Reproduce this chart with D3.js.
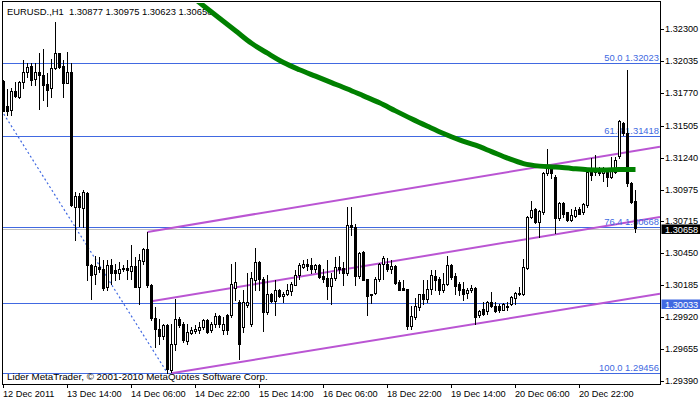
<!DOCTYPE html>
<html><head><meta charset="utf-8">
<script src="https://cdn.jsdelivr.net/npm/d3@7"></script>
<style>
body{margin:0;background:#fff}
svg{display:block}
text{font-family:"Liberation Sans",Arial,sans-serif}
</style>
</head><body>
<svg id="c" width="700" height="402"></svg>
<script>
// ---------- DATA ----------
const symbol = "EURUSD.,H1";
const lastBar = [1.30877, 1.30975, 1.30623, 1.30658];
const opens = [1.31877,1.31666,1.31631,1.31790,1.31738,1.31867,1.31945,1.31997,1.31887,1.31950,
1.31923,1.31848,1.31813,1.31978,1.32103,1.31997,1.31859,1.31945,1.30832,1.30921,
1.30819,1.30943,1.30355,1.30275,1.30335,1.30322,1.30170,1.30355,1.30308,1.30281,
1.30314,1.30330,1.30302,1.30341,1.30170,1.30382,1.30482,1.30189,1.29916,1.29825,
1.29764,1.29858,1.29480,1.29701,1.29908,1.29866,1.29722,1.29789,1.29803,1.29811,
1.29838,1.29900,1.29811,1.29861,1.29927,1.29811,1.29935,1.29935,1.30165,1.30045,
1.29838,1.30018,1.29866,1.30225,1.30377,1.30233,1.29963,1.30115,1.30054,1.30148,
1.30095,1.30109,1.30136,1.30189,1.30266,1.30335,1.30363,1.30349,1.30316,1.30355,
1.30261,1.30244,1.30178,1.30247,1.30335,1.30330,1.30286,1.30686,1.30667,1.30261,
1.30455,1.30233,1.30115,1.30120,1.30239,1.30358,1.30363,1.30322,1.30341,1.30209,
1.30161,1.30151,1.29847,1.29921,1.30004,1.30109,1.30068,1.30151,1.30258,1.30233,
1.30142,1.30198,1.30349,1.30258,1.30192,1.30156,1.30120,1.30142,1.30165,1.29935,
1.29985,1.29968,1.30045,1.30010,1.30012,1.29982,1.30004,1.30026,1.30082,1.30109,
1.30115,1.30330,1.30749,1.30813,1.30708,1.30791,1.31109,1.31150,1.31081,1.30736,
1.30860,1.30786,1.30722,1.30755,1.30811,1.30791,1.30846,1.31128,1.31122,1.31136,
1.31114,1.31128,1.31081,1.31122,1.31252,1.31525,1.31443,1.31028,1.30877];
const highs = [1.31881,1.31807,1.31813,1.31862,1.31873,1.32047,1.32025,1.32020,1.32025,1.32103,
1.32136,1.31937,1.32053,1.32364,1.32105,1.32047,1.32111,1.32020,1.30956,1.30948,
1.30970,1.30956,1.30363,1.30424,1.30418,1.30391,1.30391,1.30397,1.30363,1.30377,
1.30349,1.30391,1.30515,1.30418,1.30446,1.30493,1.30625,1.30198,1.30004,1.29908,
1.29866,1.29866,1.29866,1.30074,1.29921,1.29880,1.29866,1.29838,1.29852,1.29880,
1.29908,1.29908,1.29880,1.29954,1.29941,1.29921,1.29949,1.30363,1.30377,1.30059,
1.30142,1.30281,1.30294,1.30488,1.30382,1.30252,1.30266,1.30122,1.30225,1.30156,
1.30128,1.30198,1.30211,1.30308,1.30368,1.30391,1.30399,1.30405,1.30363,1.30363,
1.30314,1.30391,1.30281,1.30418,1.30424,1.30377,1.30832,1.30832,1.30689,1.30459,
1.30468,1.30233,1.30115,1.30252,1.30368,1.30424,1.30413,1.30391,1.30349,1.30225,
1.30225,1.30156,1.30010,1.30082,1.30115,1.30231,1.30225,1.30308,1.30308,1.30252,
1.30281,1.30424,1.30363,1.30281,1.30211,1.30209,1.30165,1.30184,1.30170,1.29977,
1.30045,1.30054,1.30128,1.30045,1.30032,1.30037,1.30045,1.30093,1.30128,1.30170,
1.30397,1.30755,1.30882,1.30819,1.30805,1.31122,1.31308,1.31178,1.31095,1.30874,
1.30874,1.30791,1.30811,1.30832,1.30832,1.30860,1.31136,1.31233,1.31260,1.31163,
1.31163,1.31150,1.31246,1.31246,1.31550,1.31536,1.31964,1.31037,1.30975];
const lows = [1.31625,1.31592,1.31592,1.31743,1.31732,1.31813,1.31904,1.31840,1.31840,1.31641,
1.31716,1.31666,1.31743,1.31973,1.31981,1.31743,1.31853,1.30838,1.30556,1.30672,
1.30667,1.30225,1.30074,1.30198,1.30294,1.30142,1.30142,1.30198,1.30225,1.30239,
1.30302,1.30239,1.30239,1.30167,1.30026,1.30363,1.30170,1.29894,1.29673,1.29701,
1.29742,1.29456,1.29466,1.29645,1.29838,1.29714,1.29701,1.29778,1.29789,1.29789,
1.29825,1.29790,1.29797,1.29838,1.29838,1.29784,1.29784,1.29921,1.30059,1.29577,
1.29797,1.30004,1.29844,1.30142,1.30142,1.29805,1.29949,1.30045,1.29935,1.30087,
1.30045,1.30101,1.30101,1.30184,1.30239,1.30330,1.30308,1.30286,1.30294,1.30244,
1.30211,1.30068,1.30026,1.30225,1.30286,1.30184,1.30266,1.30598,1.30184,1.30247,
1.30225,1.29935,1.30037,1.30115,1.30219,1.30239,1.30302,1.30281,1.30198,1.30142,
1.30142,1.29819,1.29825,1.29908,1.29982,1.30026,1.30045,1.30115,1.30148,1.30115,
1.30128,1.30184,1.30239,1.30115,1.30101,1.30059,1.30076,1.30128,1.29866,1.29921,
1.29935,1.29949,1.30004,1.29963,1.29963,1.29977,1.29977,1.30018,1.30032,1.30101,
1.30101,1.30322,1.30744,1.30695,1.30584,1.30777,1.31095,1.31067,1.30612,1.30722,
1.30749,1.30714,1.30716,1.30749,1.30772,1.30777,1.30832,1.31053,1.31095,1.31095,
1.31047,1.31004,1.31067,1.31109,1.31235,1.31426,1.31004,1.30863,1.30623];
const closes = [1.31629,1.31627,1.31790,1.31751,1.31865,1.31945,1.31992,1.31881,1.31950,1.31920,
1.31840,1.31799,1.31978,1.32103,1.31992,1.31859,1.31945,1.30846,1.30921,1.30827,
1.30951,1.30349,1.30266,1.30341,1.30316,1.30165,1.30355,1.30286,1.30286,1.30316,
1.30327,1.30308,1.30341,1.30170,1.30391,1.30482,1.30189,1.29913,1.29825,1.29764,
1.29852,1.29494,1.29701,1.29908,1.29852,1.29728,1.29797,1.29811,1.29819,1.29838,
1.29900,1.29797,1.29861,1.29927,1.29866,1.29866,1.29817,1.30198,1.30211,1.29701,
1.30045,1.30045,1.30242,1.30374,1.30233,1.29963,1.30115,1.30054,1.30148,1.30095,
1.30115,1.30142,1.30198,1.30272,1.30349,1.30363,1.30343,1.30316,1.30355,1.30252,
1.30239,1.30178,1.30247,1.30335,1.30322,1.30286,1.30686,1.30667,1.30261,1.30451,
1.30231,1.30095,1.30101,1.30239,1.30358,1.30413,1.30314,1.30341,1.30206,1.30148,
1.30148,1.29847,1.29927,1.30010,1.30109,1.30068,1.30156,1.30266,1.30225,1.30142,
1.30198,1.30349,1.30252,1.30175,1.30142,1.30115,1.30142,1.30165,1.29921,1.29968,
1.29949,1.30045,1.30012,1.29968,1.29977,1.30032,1.30012,1.30087,1.30120,1.30120,
1.30335,1.30749,1.30805,1.30708,1.30797,1.31109,1.31163,1.31109,1.30736,1.30860,
1.30777,1.30722,1.30763,1.30805,1.30777,1.30852,1.31122,1.31095,1.31150,1.31109,
1.31136,1.31081,1.31136,1.31219,1.31542,1.31443,1.31028,1.30875,1.30658];

const maIdx  = [47,50,54,58,62,66,70,74,78,82,86,90,94,98,102,106,110,114,118,122,126,130,134,138,142,146,150,154,158];
const maVals = [1.32574,1.32496,1.32392,1.32289,1.32185,1.32103,1.32026,1.31966,1.31913,1.31860,
1.31807,1.31750,1.31693,1.31626,1.31561,1.31499,1.31439,1.31386,1.31342,1.31289,
1.31235,1.31190,1.31169,1.31161,1.31150,1.31140,1.31136,1.31142,1.31142];

const priceTicks = [1.32300,1.32035,1.31770,1.31505,1.31240,1.30975,1.30715,1.30450,1.30185,1.29920,1.29655,1.29390];
const timeTickIdx = [0,16,32,48,64,80,96,112,128,144];
const timeTickLabels = ["12 Dec 2011","13 Dec 14:00","14 Dec 06:00","14 Dec 22:00","15 Dec 14:00",
  "16 Dec 06:00","18 Dec 22:00","19 Dec 14:00","20 Dec 06:00","20 Dec 22:00"];

const fibLevels = [50.0, 61.8, 76.4, 100.0];
const fibPrices = [1.32023, 1.31418, 1.30668, 1.29456];
const fibTrendIdx = [-57, 41];
const fibTrendPrice = [1.34590, 1.29456];
const hLinePrice = 1.30033;
const bidPrice = 1.30658;
const channelIdx = [[36,158],[37,158],[42,158]];
const channelPrice = [[1.30625,1.31295],[1.30051,1.30715],[1.29456,1.30080]];
const copyright = "Lider MetaTrader, © 2001-2010 MetaQuotes Software Corp.";

// ---------- DRAW ----------
const W = 700, H = 402;
const P = {l:2, r:660, t:2, b:384};
const svg = d3.select("#c");
const x = d3.scaleLinear().domain([0,158]).range([3.5,635.5]);
const y = d3.scaleLinear().domain([1.29390,1.32300]).range([381.2,29.4]);
const BLUE = "#4169E1", PURPLE = "#BA55D3", GREEN = "#008000";
const AX_FS = 9.2;

svg.append("rect").attr("width",W).attr("height",H).attr("fill","#fff");
svg.append("defs").append("clipPath").attr("id","clip")
  .append("rect").attr("x",P.l+1).attr("y",P.t+1).attr("width",P.r-P.l-1).attr("height",P.b-P.t-1);
const g = svg.append("g").attr("clip-path","url(#clip)");

// title
g.append("text").attr("x",7).attr("y",15).attr("font-size",9.4).attr("fill","#000")
  .style("white-space","pre")
  .text(symbol + "  " + lastBar.map(v=>v.toFixed(5)).join(" "));

// horizontal lines (fib levels + hline + bid)
const yr = v => Math.round(y(v)) + 0.5;
fibPrices.forEach(p=>{
  g.append("line").attr("x1",P.l).attr("x2",P.r).attr("y1",yr(p)).attr("y2",yr(p))
   .attr("stroke",BLUE).attr("stroke-width",1);
});
g.append("line").attr("x1",P.l).attr("x2",P.r).attr("y1",yr(hLinePrice)).attr("y2",yr(hLinePrice))
  .attr("stroke",BLUE).attr("stroke-width",1);
g.append("line").attr("x1",P.l).attr("x2",P.r).attr("y1",yr(bidPrice)+1).attr("y2",yr(bidPrice)+1)
  .attr("stroke","#c0c0c0").attr("stroke-width",1);

// fib trend dotted line
g.append("line")
  .attr("x1",x(fibTrendIdx[0])).attr("y1",y(fibTrendPrice[0]))
  .attr("x2",x(fibTrendIdx[1])).attr("y2",y(fibTrendPrice[1]))
  .attr("stroke",BLUE).attr("stroke-width",1.2).attr("stroke-dasharray","2,2.5");

// channel lines (rays to the right)
const iEnd = x.invert(P.r);
channelIdx.forEach((ci,k)=>{
  const [i0,i1] = ci, [p0,p1] = channelPrice[k];
  const pe = p0 + (p1-p0)*(iEnd-i0)/(i1-i0);
  g.append("line").attr("x1",x(i0)).attr("y1",y(p0)).attr("x2",x(iEnd)).attr("y2",y(pe))
   .attr("stroke",PURPLE).attr("stroke-width",2);
});

// fib labels
fibLevels.forEach((lv,k)=>{
  g.append("text").attr("x",659).attr("y",Math.round(y(fibPrices[k]))-2)
   .attr("text-anchor","end").attr("font-size",9.4).attr("fill",BLUE)
   .text(lv.toFixed(1)+" "+fibPrices[k].toFixed(5));
});

// candles
const bars = d3.range(opens.length).map(i=>({i,o:opens[i],h:highs[i],l:lows[i],c:closes[i]}));
const cg = g.append("g");
cg.selectAll("line.wick").data(bars).join("line").attr("class","wick")
  .attr("x1",d=>x(d.i)).attr("x2",d=>x(d.i))
  .attr("y1",d=>Math.round(y(d.h))).attr("y2",d=>Math.round(y(d.l))+1)
  .attr("stroke","#000").attr("stroke-width",1);
bars.forEach(d=>{
  const top = Math.round(y(Math.max(d.o,d.c))), bot = Math.round(y(Math.min(d.o,d.c)));
  if (d.c > d.o && bot-top >= 2) {
    cg.append("rect").attr("x",x(d.i)-1).attr("y",top+0.5).attr("width",2).attr("height",bot-top)
      .attr("fill","#fff").attr("stroke","#000").attr("stroke-width",1);
  } else {
    cg.append("rect").attr("x",x(d.i)-1.5).attr("y",top).attr("width",3).attr("height",Math.max(1,bot-top+1)).attr("fill","#000");
  }
});

// moving average
g.append("path").datum(maIdx.map((v,k)=>[v,maVals[k]]))
  .attr("d",d3.line().x(d=>x(d[0])).y(d=>y(d[1])).curve(d3.curveMonotoneX))
  .attr("fill","none").attr("stroke",GREEN).attr("stroke-width",5);

// copyright
g.append("text").attr("x",7).attr("y",380).attr("font-size",9.8).attr("fill","#000").text(copyright);

// frame
svg.append("rect").attr("x",P.l+0.5).attr("y",P.t-0.5).attr("width",P.r-P.l).attr("height",P.b-P.t+1)
  .attr("fill","none").attr("stroke","#000").attr("stroke-width",1);

// right axis
const ra = svg.append("g");
priceTicks.forEach(p=>{
  const yy = Math.round(y(p))+0.5;
  ra.append("line").attr("x1",P.r+1).attr("x2",P.r+4).attr("y1",yy).attr("y2",yy).attr("stroke","#000");
  ra.append("text").attr("x",665).attr("y",yy+2.6).attr("font-size",AX_FS).attr("fill","#000").text(p.toFixed(5));
});
[[hLinePrice,BLUE],[bidPrice,"#000"]].forEach(([p,col])=>{
  const yy = Math.round(y(p));
  ra.append("rect").attr("x",P.r+1.5).attr("y",yy-3.5).attr("width",W-P.r-1.5).attr("height",9.5).attr("fill",col);
  ra.append("text").attr("x",665).attr("y",yy+5.2).attr("font-size",AX_FS).attr("fill","#fff").text(p.toFixed(5));
});

// bottom axis
const ba = svg.append("g");
timeTickIdx.forEach((ti,k)=>{
  const xx = x(ti);
  ba.append("line").attr("x1",xx).attr("x2",xx).attr("y1",P.b).attr("y2",P.b+4).attr("stroke","#000");
  ba.append("text").attr("x",xx-0.5).attr("y",397).attr("font-size",9.2).attr("fill","#000").text(timeTickLabels[k]);
});
</script>
</body></html>
